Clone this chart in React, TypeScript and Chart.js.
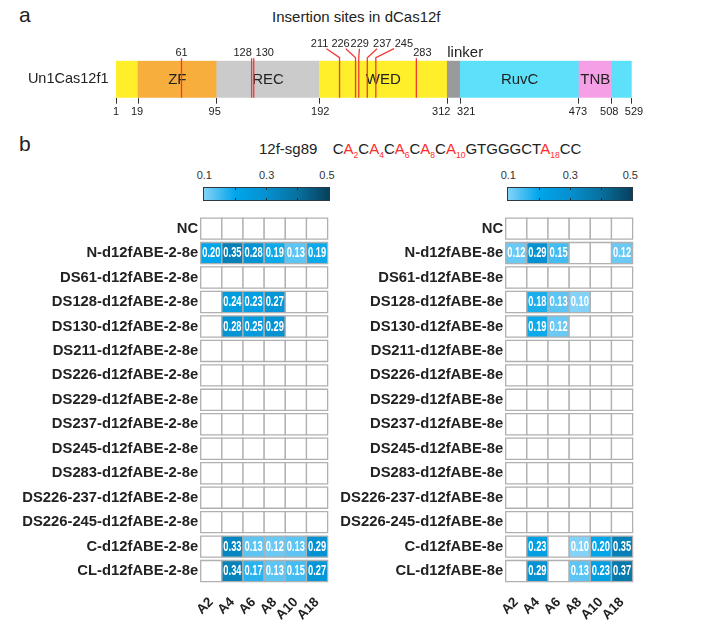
import React, { useEffect, useRef } from 'react';
import { Chart, registerables, LinearScale } from 'chart.js';

// ---------------- Data ----------------
const proteinName = 'Un1Cas12f1';
const domainStarts = [1, 19, 95, 192, 312, 321, 473, 508];
const domainEnds = [19, 95, 192, 312, 321, 473, 508, 529];
const domainNames = ['', 'ZF', 'REC', 'WED', 'linker', 'RuvC', 'TNB', ''];
const domainTicks = [1, 19, 95, 192, 312, 321, 473, 508, 529];
const insertionSites = [61, 128, 130, 211, 226, 229, 237, 245, 283];

const guideName = '12f-sg89';
const guideSequence = 'CACACACACAGTGGGCTACC';
const editedPositions = [2, 4, 6, 8, 10, 18];

const positions = ['A2', 'A4', 'A6', 'A8', 'A10', 'A18'];

const leftRows = [
  'NC', 'N-d12fABE-2-8e', 'DS61-d12fABE-2-8e', 'DS128-d12fABE-2-8e', 'DS130-d12fABE-2-8e',
  'DS211-d12fABE-2-8e', 'DS226-d12fABE-2-8e', 'DS229-d12fABE-2-8e', 'DS237-d12fABE-2-8e',
  'DS245-d12fABE-2-8e', 'DS283-d12fABE-2-8e', 'DS226-237-d12fABE-2-8e', 'DS226-245-d12fABE-2-8e',
  'C-d12fABE-2-8e', 'CL-d12fABE-2-8e',
];
const leftValues: (number | null)[][] = [
  [null, null, null, null, null, null],
  [0.20, 0.35, 0.28, 0.19, 0.13, 0.19],
  [null, null, null, null, null, null],
  [null, 0.24, 0.23, 0.27, null, null],
  [null, 0.28, 0.25, 0.29, null, null],
  [null, null, null, null, null, null],
  [null, null, null, null, null, null],
  [null, null, null, null, null, null],
  [null, null, null, null, null, null],
  [null, null, null, null, null, null],
  [null, null, null, null, null, null],
  [null, null, null, null, null, null],
  [null, null, null, null, null, null],
  [null, 0.33, 0.13, 0.12, 0.13, 0.29],
  [null, 0.34, 0.17, 0.13, 0.15, 0.27],
];

const rightRows = [
  'NC', 'N-d12fABE-8e', 'DS61-d12fABE-8e', 'DS128-d12fABE-8e', 'DS130-d12fABE-8e',
  'DS211-d12fABE-8e', 'DS226-d12fABE-8e', 'DS229-d12fABE-8e', 'DS237-d12fABE-8e',
  'DS245-d12fABE-8e', 'DS283-d12fABE-8e', 'DS226-237-d12fABE-8e', 'DS226-245-d12fABE-8e',
  'C-d12fABE-8e', 'CL-d12fABE-8e',
];
const rightValues: (number | null)[][] = [
  [null, null, null, null, null, null],
  [0.12, 0.29, 0.15, null, null, 0.12],
  [null, null, null, null, null, null],
  [null, 0.18, 0.13, 0.10, null, null],
  [null, 0.19, 0.12, null, null, null],
  [null, null, null, null, null, null],
  [null, null, null, null, null, null],
  [null, null, null, null, null, null],
  [null, null, null, null, null, null],
  [null, null, null, null, null, null],
  [null, null, null, null, null, null],
  [null, null, null, null, null, null],
  [null, null, null, null, null, null],
  [null, 0.23, null, 0.10, 0.20, 0.35],
  [null, 0.29, null, 0.13, 0.23, 0.37],
];

const colorbarTicks = [0.1, 0.3, 0.5];
const colorbarMinorTicks = [0.2, 0.3, 0.4];
const cmapStops = [0.1, 0.2, 0.3, 0.4, 0.5];

// ---------------- Styles / layout ----------------
const FONT = "'Liberation Sans', Arial, Helvetica, sans-serif";
const TEXT = '#222';
const cmapColors = ['#84d2f8', '#00a5ea', '#0590cf', '#08709e', '#06405c'];
const domainColors = ['#FFEE2A', '#F8AE3D', '#CBCBCB', '#FFEE2A', '#9A9A9A', '#5DE0FA', '#F5A0E6', '#5DE0FA'];
// schematic (not-to-scale) axis: fraction of the bar width at each domain boundary
const schematicFractions = [0, 0.0427, 0.1953, 0.3942, 0.6424, 0.6676, 0.8978, 0.9612, 1];
const tickLabelDx = [0, -1, -2, 1, -6, 6, -1, -2.5, 2.3];
const siteLabelDx = [0, -9, 11, -20, -15, 1, 15, 28, 6];
const siteLabelRaised = [false, false, false, true, true, true, true, true, false];
const SITE_RED = '#EF3B36';

Chart.register(...registerables);

class SchematicScale extends LinearScale {
  static id = 'schematic';
  resToFrac(v: number) {
    const r = domainTicks;
    if (v <= r[0]) return 0;
    for (let i = 1; i < r.length; i++) {
      if (v <= r[i]) {
        const t = (v - r[i - 1]) / (r[i] - r[i - 1]);
        return schematicFractions[i - 1] + t * (schematicFractions[i] - schematicFractions[i - 1]);
      }
    }
    return 1;
  }
  getPixelForValue(value: any) {
    if (value === null || value === undefined || isNaN(value)) return NaN;
    return (this as any).getPixelForDecimal(this.resToFrac(+value));
  }
  getValueForPixel(pixel: number) {
    const f = (this as any).getDecimalForPixel(pixel);
    const r = domainTicks;
    for (let i = 1; i < r.length; i++) {
      if (f <= schematicFractions[i]) {
        const t = (f - schematicFractions[i - 1]) / (schematicFractions[i] - schematicFractions[i - 1]);
        return r[i - 1] + t * (r[i] - r[i - 1]);
      }
    }
    return r[r.length - 1];
  }
}
Chart.register(SchematicScale as any);
Chart.defaults.font.family = FONT;

function hexToRgb(h: string) {
  const n = parseInt(h.slice(1), 16);
  return [(n >> 16) & 255, (n >> 8) & 255, n & 255];
}
function colorFor(v: number) {
  const s = cmapStops;
  const c = Math.max(s[0], Math.min(s[s.length - 1], v));
  let i = 1;
  while (i < s.length - 1 && c > s[i]) i++;
  const t = (c - s[i - 1]) / (s[i] - s[i - 1]);
  const a = hexToRgb(cmapColors[i - 1]);
  const b = hexToRgb(cmapColors[i]);
  const m = a.map((x, k) => Math.round(x + (b[k] - x) * t));
  return `rgb(${m[0]},${m[1]},${m[2]})`;
}

// ---------------- Domain chart ----------------
const domainPlugin = {
  id: 'domainDecor',
  afterDatasetsDraw(chart: any) {
    const { ctx, chartArea } = chart;
    const xs = chart.scales.x;
    const midY = (chartArea.top + chartArea.bottom) / 2;
    ctx.save();
    ctx.fillStyle = TEXT;
    ctx.font = `15px ${FONT}`;
    domainNames.forEach((n, i) => {
      if (!n) return;
      const x0 = xs.getPixelForValue(domainStarts[i]);
      const x1 = xs.getPixelForValue(domainEnds[i]);
      if (x1 - x0 < 30) {
        ctx.textAlign = 'left';
        ctx.textBaseline = 'alphabetic';
        ctx.fillText(n, x0, chartArea.top - 3.5);
      } else {
        ctx.textAlign = 'center';
        ctx.textBaseline = 'middle';
        ctx.fillText(n, (x0 + x1) / 2, midY + 1);
      }
    });
    // residue tick labels (nudged apart where they would collide)
    ctx.font = `11px ${FONT}`;
    ctx.textAlign = 'center';
    ctx.textBaseline = 'middle';
    domainTicks.forEach((t, i) => {
      ctx.fillText(String(t), xs.getPixelForValue(t) + tickLabelDx[i], chartArea.bottom + 14);
    });
    // insertion sites
    ctx.strokeStyle = SITE_RED;
    ctx.lineWidth = 1.3;
    ctx.textBaseline = 'alphabetic';
    insertionSites.forEach((s, i) => {
      const lx = xs.getPixelForValue(s);
      const tx = lx + siteLabelDx[i];
      ctx.beginPath();
      if (siteLabelRaised[i]) {
        ctx.moveTo(tx + (lx - tx) * 0.35, chartArea.top - 12);
        ctx.lineTo(lx, chartArea.top - 3);
        ctx.lineTo(lx, chartArea.bottom);
        ctx.stroke();
        ctx.fillText(String(s), tx, chartArea.top - 13.7);
      } else {
        ctx.moveTo(lx, chartArea.top - 2.5);
        ctx.lineTo(lx, chartArea.bottom);
        ctx.stroke();
        ctx.fillText(String(s), tx, chartArea.top - 5.2);
      }
    });
    ctx.restore();
  },
};

function makeDomainChart(canvas: HTMLCanvasElement) {
  return new Chart(canvas, {
    type: 'bar',
    data: {
      labels: [proteinName],
      datasets: [{
        data: domainStarts.map((s, i) => ({ x: [s, domainEnds[i]], y: proteinName })) as any,
        backgroundColor: domainColors,
        borderWidth: 0,
        barPercentage: 1,
        categoryPercentage: 1,
      }],
    },
    options: {
      indexAxis: 'y',
      responsive: false,
      animation: false,
      events: [],
      layout: { padding: { top: 60.7, right: 91.3, left: 0, bottom: 0 } },
      scales: {
        x: {
          type: 'schematic' as any,
          min: 1,
          max: 529,
          beginAtZero: false,
          afterBuildTicks: (s: any) => { s.ticks = domainTicks.map((v) => ({ value: v })); },
          grid: { display: true, drawOnChartArea: false, drawTicks: true, tickLength: 6, color: '#333', lineWidth: 1 },
          border: { display: false },
          ticks: { display: false, autoSkip: false, maxRotation: 0 },
          afterFit: (s: any) => { s.height = 32.3; },
        } as any,
        y: {
          type: 'category',
          grid: { display: false, drawTicks: false },
          border: { display: false },
          ticks: { padding: 7.5, color: TEXT, font: { size: 14.5, family: FONT } },
          afterFit: (s: any) => { s.width = 116; },
        },
      },
      plugins: { legend: { display: false }, tooltip: { enabled: false } },
    } as any,
    plugins: [domainPlugin],
  });
}

// ---------------- Heatmaps ----------------
const cellLabelPlugin = {
  id: 'cellLabels',
  afterDatasetsDraw(chart: any) {
    const meta = chart.getDatasetMeta(0);
    const data = chart.data.datasets[0].data;
    const side = chart.scales.x.width / positions.length;
    const ctx = chart.ctx;
    ctx.save();
    ctx.fillStyle = '#ffffff';
    ctx.font = `bold 14px ${FONT}`;
    ctx.textAlign = 'center';
    ctx.textBaseline = 'middle';
    meta.data.forEach((el: any, i: number) => {
      const v = data[i].v;
      if (v === null || v === undefined) return;
      ctx.fillText(v.toFixed(2), el.x, el.y + 0.5, side - 3);
    });
    ctx.restore();
  },
};

function makeHeatmap(canvas: HTMLCanvasElement, rows: string[], values: (number | null)[][], yAxisWidth: number) {
  const pts = rows.flatMap((r, i) => positions.map((p, j) => ({ x: p, y: r, v: values[i][j] })));
  const cellRadius = (ctx: any) => {
    const xs = ctx.chart.scales.x;
    return (xs.width / positions.length) / Math.SQRT2;
  };
  return new Chart(canvas, {
    type: 'scatter',
    data: {
      datasets: [{
        data: pts as any,
        pointStyle: 'rect',
        pointRadius: cellRadius,
        pointHoverRadius: cellRadius,
        pointBorderWidth: 1.3,
        pointBorderColor: '#b0b0b0',
        pointBackgroundColor: (ctx: any) => (ctx.raw && ctx.raw.v != null ? colorFor(ctx.raw.v) : '#ffffff'),
        clip: false as any,
      }],
    },
    options: {
      responsive: false,
      animation: false,
      events: [],
      layout: { padding: { top: 5, right: 6, left: 0, bottom: 0 } },
      scales: {
        x: {
          type: 'category',
          labels: positions,
          offset: true,
          grid: { display: false, drawTicks: false },
          border: { display: false },
          ticks: { autoSkip: false, minRotation: 45, maxRotation: 45, padding: 11, color: TEXT, font: { size: 13.5, weight: 'bold', family: FONT } },
          afterFit: (s: any) => { s.height = 38.7; },
        },
        y: {
          type: 'category',
          labels: rows,
          offset: true,
          grid: { display: false, drawTicks: false },
          border: { display: false },
          ticks: { autoSkip: false, padding: 2.5, color: TEXT, font: { size: 14.8, weight: 'bold', family: FONT } },
          afterFit: (s: any) => { s.width = yAxisWidth; },
        },
      },
      plugins: { legend: { display: false }, tooltip: { enabled: false } },
    } as any,
    plugins: [cellLabelPlugin],
  });
}

// ---------------- HTML text helpers ----------------
function Txt(props: { x: number; y: number; size: number; align?: 'left' | 'center'; color?: string; children: React.ReactNode }) {
  const { x, y, size, align = 'left', color = TEXT, children } = props;
  const w = 400;
  return (
    <div
      style={{
        position: 'absolute',
        left: align === 'center' ? x - w / 2 : x,
        top: y - 0.8465 * size,
        width: align === 'center' ? w : undefined,
        textAlign: align,
        fontSize: size,
        lineHeight: `${size}px`,
        whiteSpace: 'nowrap',
        color,
        fontFamily: FONT,
      }}
    >
      {children}
    </div>
  );
}

function Colorbar(props: { left: number; top: number; width: number }) {
  const { left, top, width } = props;
  const h = 14;
  const grad = `linear-gradient(to right, ${cmapColors.map((c, i) => `${c} ${(i / (cmapColors.length - 1)) * 100}%`).join(', ')})`;
  const lo = cmapStops[0];
  const hi = cmapStops[cmapStops.length - 1];
  return (
    <>
      {colorbarTicks.map((t) => (
        <Txt key={t} x={left + ((t - lo) / (hi - lo)) * width - (t === hi ? 3 : 0) + (t === lo ? 1 : 0)} y={top - 7} size={11} align="center" color="#333">
          {t.toFixed(1)}
        </Txt>
      ))}
      <div style={{ position: 'absolute', left, top, width, height: h, boxSizing: 'border-box', border: '1px solid #2a3a44', background: grad }}>
        {colorbarMinorTicks.map((t) => (
          <React.Fragment key={t}>
            <div style={{ position: 'absolute', left: ((t - lo) / (hi - lo)) * (width - 2) - 0.5, top: 0, width: 1, height: 2, background: '#1a2a33' }} />
            <div style={{ position: 'absolute', left: ((t - lo) / (hi - lo)) * (width - 2) - 0.5, bottom: 0, width: 1, height: 2, background: '#1a2a33' }} />
          </React.Fragment>
        ))}
      </div>
    </>
  );
}

export default function App() {
  const domRef = useRef<HTMLCanvasElement>(null);
  const leftRef = useRef<HTMLCanvasElement>(null);
  const rightRef = useRef<HTMLCanvasElement>(null);

  useEffect(() => {
    const charts = [
      makeDomainChart(domRef.current!),
      makeHeatmap(leftRef.current!, leftRows, leftValues, 200.7),
      makeHeatmap(rightRef.current!, rightRows, rightValues, 175.7),
    ];
    return () => charts.forEach((c) => c.destroy());
  }, []);

  const seq = guideSequence.split('').map((ch, i) => {
    const pos = i + 1;
    const edited = editedPositions.includes(pos);
    return (
      <span key={i} style={{ color: edited ? '#FF2A2A' : TEXT }}>
        {ch}
        {edited && <span style={{ fontSize: 8.5, position: 'relative', top: 4.5 }}>{pos}</span>}
      </span>
    );
  });

  return (
    <div style={{ position: 'absolute', left: 0, top: 0, width: 723, height: 622, background: '#fff', overflow: 'hidden', fontFamily: FONT }}>
      <Txt x={19} y={21.7} size={21}>a</Txt>
      <Txt x={356.3} y={21.7} size={15} align="center">Insertion sites in dCas12f</Txt>
      <canvas ref={domRef} width={723} height={130} style={{ position: 'absolute', left: 0, top: 0, width: 723, height: 130 }} />

      <Txt x={19} y={151} size={21}>b</Txt>
      <Txt x={259} y={153.3} size={15}>{guideName}</Txt>
      <Txt x={332.7} y={153.3} size={15}>{seq}</Txt>

      <Colorbar left={203.3} top={186.7} width={126.7} />
      <Colorbar left={507.3} top={186.7} width={126} />

      <canvas ref={leftRef} width={340} height={417} style={{ position: 'absolute', left: 0, top: 205, width: 340, height: 417 }} />
      <canvas ref={rightRef} width={315} height={417} style={{ position: 'absolute', left: 330, top: 205, width: 315, height: 417 }} />
    </div>
  );
}
